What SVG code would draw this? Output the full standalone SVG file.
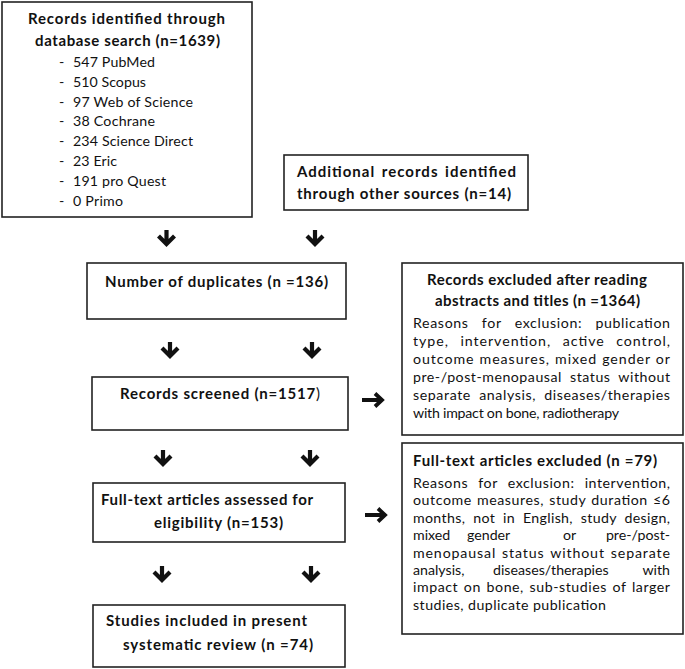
<svg xmlns="http://www.w3.org/2000/svg" xmlns:xlink="http://www.w3.org/1999/xlink" width="685" height="669" viewBox="0 0 685 669">
<style>
.box{fill:#fff;stroke:#222;stroke-width:1.6}
.t{font-family:Lato,"Liberation Sans",sans-serif;font-size:14.2px;fill:#111}
.b{font-weight:bold;font-size:15px}
.n{font-weight:normal}
.arr{fill:none;stroke:#111;stroke-width:4.2;stroke-linejoin:miter;stroke-linecap:butt}
.arr2{fill:none;stroke:#111;stroke-width:3.8;stroke-linejoin:miter;stroke-linecap:butt}
</style>
<defs>
<path id="ad" class="arr" d="M0,0 V14 M-8,6 L0,14 L8,6"/>
<path id="ar" class="arr2" d="M0,0 H20 M13,-6.5 L20,0 L13,6.5"/>
<clipPath id="c4"><rect x="400" y="260" width="285" height="160.5"/></clipPath>
<clipPath id="c6"><rect x="400" y="440" width="285" height="172"/></clipPath>
</defs>
<rect width="685" height="669" fill="#fff"/>

<g id="n1">
<rect class="box" x="2" y="2" width="250" height="215"/>
<text class="t b" x="28" y="24" textLength="197">Records identified through</text>
<text class="t b" x="35" y="46" textLength="185">database search (n=1639)</text>
<g class="t">
<text x="59" y="67">-</text><text x="73" y="67" textLength="82">547 PubMed</text>
<text x="59" y="86.8">-</text><text x="73" y="86.8" textLength="73">510 Scopus</text>
<text x="59" y="106.6">-</text><text x="73" y="106.6" textLength="120">97 Web of Science</text>
<text x="59" y="126.4">-</text><text x="73" y="126.4" textLength="82">38 Cochrane</text>
<text x="59" y="146.2">-</text><text x="73" y="146.2" textLength="120">234 Science Direct</text>
<text x="59" y="166">-</text><text x="73" y="166" textLength="44">23 Eric</text>
<text x="59" y="185.8">-</text><text x="73" y="185.8" textLength="93">191 pro Quest</text>
<text x="59" y="205.6">-</text><text x="73" y="205.6" textLength="50">0 Primo</text>
</g>
</g>

<g id="n2">
<rect class="box" x="284" y="155" width="244" height="55"/>
<text class="t b" x="297" y="177" textLength="219" style="word-spacing:2px">Additional records identified</text>
<text class="t b" x="297" y="199" textLength="214">through other sources (n=14)</text>
</g>

<g id="n3">
<rect class="box" x="87" y="263" width="259" height="56"/>
<text class="t b" x="105" y="287" textLength="223">Number of duplicates (n =136)</text>
</g>

<g id="n4">
<rect class="box" x="402" y="263" width="281" height="172"/>
<text class="t b" x="427" y="285" textLength="220">Records excluded after reading</text>
<text class="t b" x="435" y="306" textLength="205">abstracts and titles (n =1364)</text>
<text class="t" x="413" y="328" textLength="257" style="word-spacing:9px">Reasons for exclusion: publication</text>
<text class="t" x="413" y="346" textLength="257" style="word-spacing:7px">type, intervention, active control,</text>
<text class="t" x="413" y="364" textLength="257" style="word-spacing:0.5px">outcome measures, mixed gender or</text>
<text class="t" x="413" y="382" textLength="257" style="word-spacing:4px">pre-/post-menopausal status without</text>
<text class="t" x="413" y="400" textLength="257" style="word-spacing:4px">separate analysis, diseases/therapies</text>
<text class="t" x="413" y="418" textLength="206" clip-path="url(#c4)">with impact on bone, radiotherapy</text>
</g>

<g id="n5">
<rect class="box" x="92" y="377" width="256" height="53"/>
<text class="t b" x="120" y="399" textLength="200">Records screened (n=1517<tspan class="n">)</tspan></text>
</g>

<g id="n6">
<rect class="box" x="402" y="443" width="281" height="191"/>
<text class="t b" x="413" y="466" textLength="244">Full-text articles excluded (n =79)</text>
<text class="t" x="413" y="488" textLength="257" style="word-spacing:6px">Reasons for exclusion: intervention,</text>
<text class="t" x="413" y="505.4" textLength="257" style="word-spacing:1px">outcome measures, study duration ≤6</text>
<text class="t" x="413" y="522.8" textLength="257" style="word-spacing:4px">months, not in English, study design,</text>
<text class="t" y="540.2"><tspan x="413">mixed</tspan><tspan x="467">gender</tspan><tspan x="563">or</tspan></text>
<text class="t" x="670" y="540.2" text-anchor="end">pre-/post-</text>
<text class="t" x="413" y="557.6" textLength="257" style="word-spacing:1.5px">menopausal status without separate</text>
<text class="t" y="575"><tspan x="413">analysis,</tspan><tspan x="493">diseases/therapies</tspan></text>
<text class="t" x="670" y="575" text-anchor="end">with</text>
<text class="t" x="413" y="592.4" textLength="257" style="word-spacing:1.5px">impact on bone, sub-studies of larger</text>
<text class="t" x="413" y="609.8" textLength="193" clip-path="url(#c6)">studies, duplicate publication</text>
</g>

<g id="n7">
<rect class="box" x="93" y="483" width="252" height="59"/>
<text class="t b" x="101" y="505" textLength="212">Full-text articles assessed for</text>
<text class="t b" x="154" y="528" textLength="129">eligibility (n=153)</text>
</g>

<g id="n8">
<rect class="box" x="93" y="605" width="252" height="62"/>
<text class="t b" x="106" y="626" textLength="201">Studies included in present</text>
<text class="t b" x="123" y="650" textLength="190">systematic review (n =74)</text>
</g>

<g id="connectors">
<use href="#ad" x="166.5" y="230"/>
<use href="#ad" x="315" y="230"/>
<use href="#ad" x="170" y="342"/>
<use href="#ad" x="312" y="342"/>
<use href="#ad" x="163" y="450"/>
<use href="#ad" x="310" y="450"/>
<use href="#ad" x="162" y="566"/>
<use href="#ad" x="311" y="566"/>
<use href="#ar" x="362" y="400"/>
<use href="#ar" x="365" y="515"/>
</g>
</svg>
